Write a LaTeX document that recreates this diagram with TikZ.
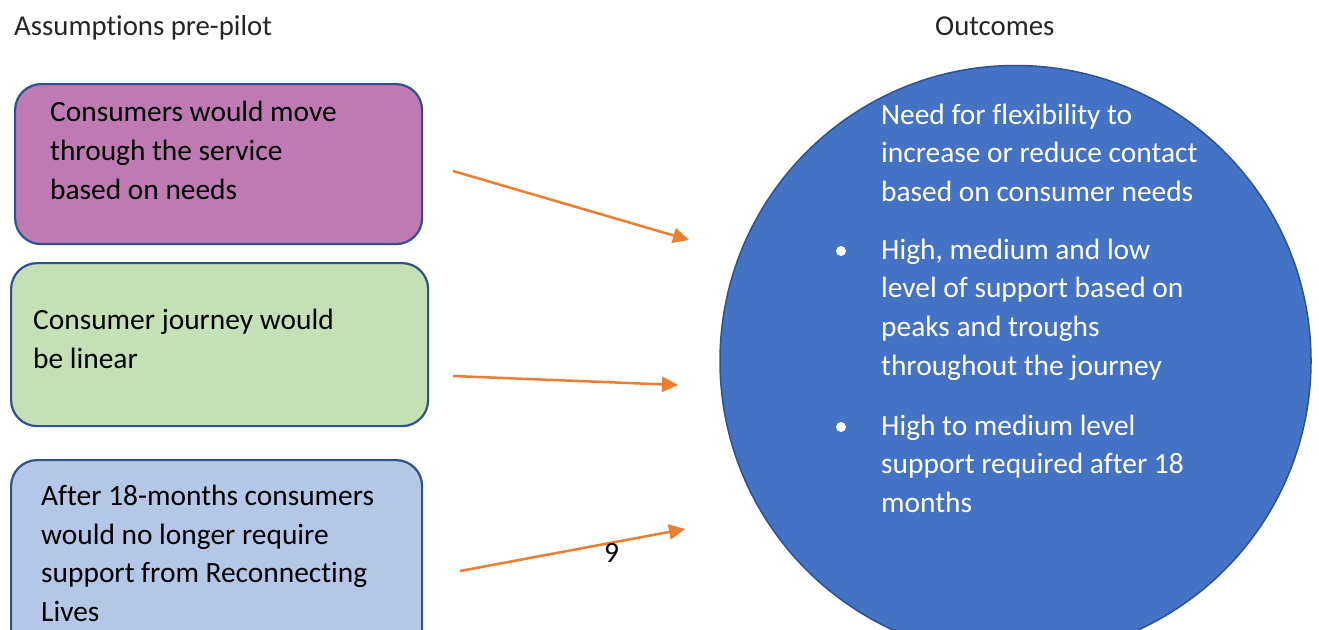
\documentclass[tikz,border=0pt]{standalone}
\usepackage{fontspec}
\setmainfont[Ligatures=NoCommon]{Carlito}
\usetikzlibrary{arrows.meta}
\definecolor{boxline}{HTML}{2F528F}
\definecolor{purplefill}{HTML}{BF7AB3}
\definecolor{greenfill}{HTML}{C5E0B4}
\definecolor{bluefill}{HTML}{B4C7E7}
\definecolor{circfill}{HTML}{4472C4}
\definecolor{arrowc}{HTML}{ED7D31}
\tikzset{
  assume/.style={draw=boxline, line width=2.2pt, rounded corners=26pt, anchor=north west, inner sep=0pt},
  txt/.style={anchor=base west, inner sep=0pt, align=left, font=\fontsize{29.4}{38.7}\selectfont},
  wtxt/.style={txt, text=white},
  head/.style={anchor=base west, inner sep=0pt, font=\fontsize{28.8}{34}\selectfont, text=black!85},
  conn/.style={draw=arrowc, line width=2.5pt, -{Triangle[length=16pt,width=15pt]}},
  bul/.style={circle, fill=white, inner sep=0pt, minimum size=10pt}
}
\begin{document}
\begin{tikzpicture}[x=1pt,y=-1pt]
\useasboundingbox (0,0) rectangle (1319,629);
\fill[white] (0,0) rectangle (1319,629);
% headings
\node[head] (h1) at (14,35) {Assumptions pre-pilot};
\node[head] (h2) at (935,35) {Outcomes};
% assumption boxes
\node[assume, fill=purplefill, minimum width=407pt, minimum height=160pt] (b1) at (14,83) {};
\node[assume, fill=greenfill, minimum width=417pt, minimum height=163pt] (b2) at (10,262) {};
\node[assume, fill=bluefill, minimum width=411pt, minimum height=200pt] (b3) at (10,459) {};
% base anchor = baseline of the last line
\node[txt] (t1) at (50,199) {Consumers would move\\through the service\\based on needs};
\node[txt] (t2) at (33,368) {Consumer journey would\\be linear};
\node[txt] (t3) at (41,621.5) {After 18-months consumers\\would no longer require\\support from Reconnecting\\Lives};
% outcomes circle
\node[circle, draw=boxline, line width=1.5pt, fill=circfill, minimum size=591pt, inner sep=0pt] (c) at (1015.5,361) {};
\node[wtxt] (o1) at (881,201.4) {Need for flexibility to\\increase or reduce contact\\based on consumer needs};
\node[wtxt] (o2) at (881,375.1) {High, medium and low\\level of support based on\\peaks and troughs\\throughout the journey};
\node[wtxt] (o3) at (881,512.4) {High to medium level\\support required after 18\\months};
\node[bul] (d1) at (841,251) {};
\node[bul] (d2) at (841,427) {};
% arrows
\coordinate (a1s) at (453,171);
\coordinate (a1e) at (689,240);
\coordinate (a2s) at (453,376);
\coordinate (a2e) at (678,385);
\coordinate (a3s) at (460,571);
\coordinate (a3e) at (685,529);
\draw[conn] (a1s) -- (a1e);
\draw[conn] (a2s) -- (a2e);
\draw[conn] (a3s) -- (a3e);
% page number
\node[txt] (pg) at (604,562) {9};
\end{tikzpicture}
\end{document}
